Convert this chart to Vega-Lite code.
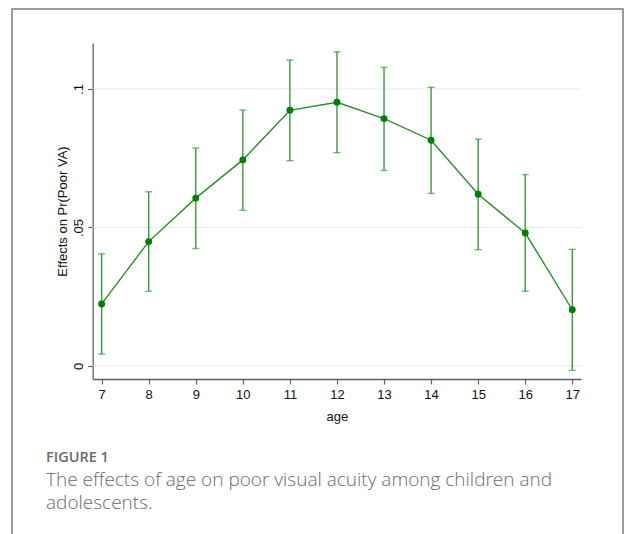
{
  "$schema": "https://vega.github.io/schema/vega-lite/v6.json",
  "autosize": "none",
  "padding": {"left": 12, "top": 9, "right": 2, "bottom": 0},
  "width": 611,
  "height": 525,
  "background": "white",
  "config": {
    "view": {"stroke": "#7a7a7a", "strokeWidth": 1.5, "strokeDash": [1136, 611, 526]},
    "axis": {
      "labelFont": "Liberation Sans",
      "titleFont": "Liberation Sans",
      "labelFontSize": 13,
      "titleFontSize": 13,
      "titleFontWeight": "normal",
      "labelColor": "#111",
      "titleColor": "#111",
      "domainColor": "#606060",
      "tickColor": "#606060",
      "domainWidth": 1.3,
      "tickWidth": 1.2,
      "tickSize": 5,
      "grid": false
    }
  },
  "title": {
    "text": "FIGURE 1",
    "subtitle": ["The effects of age on poor visual acuity among children and", "adolescents."],
    "orient": "bottom",
    "anchor": "start",
    "frame": "group",
    "offset": -83,
    "dx": 34,
    "font": "Open Sans",
    "fontSize": 14.5,
    "fontWeight": 600,
    "color": "#6b6b6b",
    "subtitleFont": "Open Sans",
    "subtitleFontSize": 19,
    "subtitleFontWeight": 300,
    "subtitleColor": "#6b6b6b",
    "subtitleLineHeight": 23.5,
    "subtitlePadding": 5
  },
  "datasets": {
    "est": [
      {"age": 7, "est": 0.0224, "lo": 0.0043, "hi": 0.0405},
      {"age": 8, "est": 0.0449, "lo": 0.0270, "hi": 0.0629},
      {"age": 9, "est": 0.0606, "lo": 0.0424, "hi": 0.0787},
      {"age": 10, "est": 0.0744, "lo": 0.0562, "hi": 0.0924},
      {"age": 11, "est": 0.0923, "lo": 0.0741, "hi": 0.1105},
      {"age": 12, "est": 0.0952, "lo": 0.0770, "hi": 0.1134},
      {"age": 13, "est": 0.0893, "lo": 0.0706, "hi": 0.1078},
      {"age": 14, "est": 0.0815, "lo": 0.0623, "hi": 0.1006},
      {"age": 15, "est": 0.0620, "lo": 0.0420, "hi": 0.0819},
      {"age": 16, "est": 0.0480, "lo": 0.0270, "hi": 0.0691},
      {"age": 17, "est": 0.0203, "lo": -0.0016, "hi": 0.0421}
    ],
    "grid": [{"v": 0}, {"v": 0.05}, {"v": 0.1}]
  },
  "layer": [
    {
      "data": {"name": "grid"},
      "mark": {"type": "rule", "color": "#e2eded", "strokeWidth": 1},
      "encoding": {
        "y": {"field": "v", "type": "quantitative", "title": "Effects on Pr(Poor VA)"},
        "x": {"datum": 6.81, "type": "quantitative"},
        "x2": {"datum": 17.185}
      }
    },
    {
      "data": {"name": "est"},
      "mark": {"type": "rule", "color": "#3a9b3a", "strokeWidth": 1.4},
      "encoding": {
        "x": {
          "field": "age", "type": "quantitative", "title": "age",
          "scale": {"domain": [6.81, 17.185], "range": [80.7, 569], "nice": false, "zero": false},
          "axis": {"values": [7, 8, 9, 10, 11, 12, 13, 14, 15, 16, 17], "format": "d", "offset": -155, "labelPadding": 4, "titlePadding": 9, "labelFlush": false}
        },
        "y": {
          "field": "lo", "type": "quantitative", "title": "Effects on Pr(Poor VA)",
          "scale": {"domain": [-0.0047, 0.1166], "range": [370, 34], "nice": false, "zero": false},
          "axis": {
            "values": [0, 0.05, 0.1],
            "offset": -80.7,
            "labelAngle": -90,
            "labelAlign": "center",
            "labelBaseline": "bottom",
            "labelPadding": 2,
            "titlePadding": 3,
            "labelFlush": false,
            "labelExpr": "datum.value == 0 ? '0' : replace(format(datum.value, '.2~f'), '0.', '.')"
          }
        },
        "y2": {"field": "hi"}
      }
    },
    {
      "data": {"name": "est"},
      "mark": {"type": "tick", "orient": "horizontal", "color": "#3a9b3a", "size": 7, "thickness": 1.4},
      "encoding": {
        "x": {"field": "age", "type": "quantitative", "title": "age"},
        "y": {"field": "lo", "type": "quantitative", "title": "Effects on Pr(Poor VA)"}
      }
    },
    {
      "data": {"name": "est"},
      "mark": {"type": "tick", "orient": "horizontal", "color": "#3a9b3a", "size": 7, "thickness": 1.4},
      "encoding": {
        "x": {"field": "age", "type": "quantitative", "title": "age"},
        "y": {"field": "hi", "type": "quantitative", "title": "Effects on Pr(Poor VA)"}
      }
    },
    {
      "data": {"name": "est"},
      "mark": {"type": "line", "color": "#2a8f2a", "strokeWidth": 1.4},
      "encoding": {
        "x": {"field": "age", "type": "quantitative", "title": "age"},
        "y": {"field": "est", "type": "quantitative", "title": "Effects on Pr(Poor VA)"}
      }
    },
    {
      "data": {"name": "est"},
      "mark": {"type": "point", "filled": true, "color": "#008000", "size": 48, "opacity": 1},
      "encoding": {
        "x": {"field": "age", "type": "quantitative", "title": "age"},
        "y": {"field": "est", "type": "quantitative", "title": "Effects on Pr(Poor VA)"}
      }
    }
  ]
}
